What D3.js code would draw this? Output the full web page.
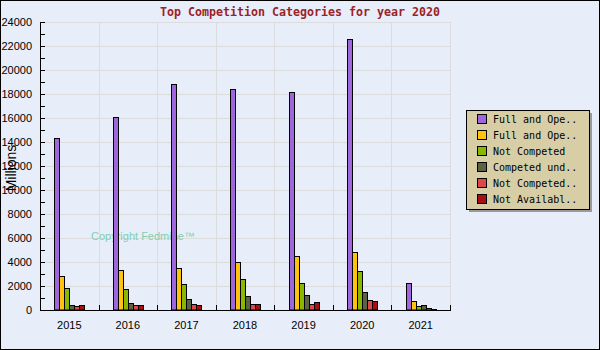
<!DOCTYPE html>
<html>
<head>
<meta charset="utf-8">
<script src="https://cdn.jsdelivr.net/npm/d3@7"></script>
<style>
  html, body { margin: 0; padding: 0; background: #e8eef9; }
  svg { display: block; }
</style>
</head>
<body>
<svg id="chart" width="600" height="350"></svg>
<script>
// Award amounts (millions of dollars) by competition category, per fiscal year
const years = ["2015", "2016", "2017", "2018", "2019", "2020", "2021"];
const seriesNames = ["Full and Ope..", "Full and Ope..", "Not Competed", "Competed und..", "Not Competed..", "Not Availabl.."];
const fullOpen        = [14300, 16100, 18800, 18400, 18150, 22550, 2250];
const fullOpenAfter   = [2850, 3330, 3500, 4000, 4500, 4830, 750];
const notCompeted     = [1830, 1750, 2170, 2580, 2250, 3250, 330];
const competedUnder   = [420, 580, 920, 1170, 1250, 1500, 420];
const notCompetedSimp = [300, 420, 500, 500, 500, 830, 170];
const notAvailable    = [420, 420, 420, 500, 670, 750, 80];
const seriesValues = [fullOpen, fullOpenAfter, notCompeted, competedUnder, notCompetedSimp, notAvailable];
const seriesColors = ["#a066dc", "#ffc20e", "#8ab800", "#5c6342", "#dd4848", "#a8100f"];
const yTicks = [0, 2000, 4000, 6000, 8000, 10000, 12000, 14000, 16000, 18000, 20000, 22000, 24000];
const yMinorTicks = d3.range(0, 24001, 1000);

const svg = d3.select("#chart");
const W = 600, H = 350;
const plot = { left: 40, right: 450, top: 22, bottom: 310 };

// background and outer frame
svg.append("rect").attr("x", 0).attr("y", 0).attr("width", W).attr("height", H).attr("fill", "#e8eef9");
svg.append("rect").attr("x", 0.5).attr("y", 0.5).attr("width", W - 1).attr("height", H - 1)
  .attr("fill", "none").attr("stroke", "#000").attr("stroke-width", 1);

const x = d3.scaleBand().domain(years).range([plot.left, plot.right]).padding(0);
const y = d3.scaleLinear().domain([0, 24000]).range([plot.bottom, plot.top]);
const groupW = 30;
const xs = d3.scaleBand().domain(d3.range(seriesNames.length)).range([0, groupW]).padding(0);

// grid
const grid = svg.append("g").attr("stroke", "#dcdcdc").attr("stroke-width", 1);
yTicks.filter(t => t > 0).forEach(t => {
  const yy = Math.round(y(t)) + 0.5;
  grid.append("line").attr("x1", plot.left).attr("x2", plot.right).attr("y1", yy).attr("y2", yy);
});
years.forEach(yr => {
  const xx = Math.round(x(yr) + x.bandwidth()) + 0.5;
  grid.append("line").attr("x1", xx).attr("x2", xx).attr("y1", plot.top).attr("y2", plot.bottom);
});

// watermark
svg.append("text").attr("x", 91).attr("y", 240)
  .attr("font-family", "Liberation Sans, Arial, sans-serif").attr("font-size", 11)
  .attr("fill", "#7fceb0").text("Copyright Fedmine\u2122");

// bars
const bars = svg.append("g");
years.forEach((yr, i) => {
  const gx = x(yr) + (x.bandwidth() - groupW) / 2;
  seriesValues.forEach((vals, s) => {
    const x0 = Math.round(gx + xs(s)) + 0.5;
    const yTop = Math.round(y(vals[i])) + 0.5;
    bars.append("rect")
      .attr("x", x0).attr("y", yTop)
      .attr("width", xs.bandwidth()).attr("height", Math.max(0, plot.bottom - yTop))
      .attr("fill", seriesColors[s]).attr("stroke", "#000").attr("stroke-width", 1);
  });
});

// y axis with inward ticks
const yAxis = svg.append("g").attr("stroke", "#000").attr("stroke-width", 1);
yAxis.append("line").attr("x1", plot.left + 0.5).attr("x2", plot.left + 0.5)
  .attr("y1", plot.top).attr("y2", plot.bottom + 0.5);
yMinorTicks.forEach(t => {
  const yy = Math.round(y(t)) + 0.5;
  yAxis.append("line").attr("x1", plot.left).attr("x2", plot.left + 5).attr("y1", yy).attr("y2", yy);
});
svg.append("g").selectAll("text").data(yTicks).join("text")
  .attr("x", 32).attr("y", d => y(d) + 4)
  .attr("text-anchor", "end")
  .attr("font-family", "Liberation Sans, Arial, sans-serif").attr("font-size", 11)
  .attr("fill", "#000").text(d => d);

// x axis with inward ticks at category boundaries
const xAxis = svg.append("g").attr("stroke", "#000").attr("stroke-width", 1);
xAxis.append("line").attr("x1", plot.left).attr("x2", plot.right + 1)
  .attr("y1", plot.bottom + 0.5).attr("y2", plot.bottom + 0.5);
[plot.left].concat(years.map(yr => x(yr) + x.bandwidth())).forEach(b => {
  const xx = Math.round(b) + 0.5;
  xAxis.append("line").attr("x1", xx).attr("x2", xx).attr("y1", plot.bottom - 5).attr("y2", plot.bottom);
});
svg.append("g").selectAll("text").data(years).join("text")
  .attr("x", d => x(d) + x.bandwidth() / 2).attr("y", 329)
  .attr("text-anchor", "middle")
  .attr("font-family", "Liberation Sans, Arial, sans-serif").attr("font-size", 11)
  .attr("fill", "#000").text(d => d);

// y axis title
svg.append("text")
  .attr("transform", "translate(16,168) rotate(-90)")
  .attr("text-anchor", "middle")
  .attr("font-family", "Liberation Sans, Arial, sans-serif").attr("font-size", 14)
  .attr("fill", "#000").text("Millions");

// title
svg.append("text").attr("x", 300).attr("y", 16).attr("text-anchor", "middle")
  .attr("font-family", "DejaVu Sans Mono, monospace").attr("font-weight", "bold").attr("font-size", 13)
  .attr("textLength", 280).attr("lengthAdjust", "spacingAndGlyphs")
  .attr("fill", "#9b2226").text("Top Competition Categories for year 2020");

// legend with drop shadow
const lg = { x: 466, y: 110, w: 123, h: 99 };
svg.append("rect").attr("x", lg.x + 3).attr("y", lg.y + 3).attr("width", lg.w).attr("height", lg.h)
  .attr("fill", "#9a9a9a");
svg.append("rect").attr("x", lg.x + 0.5).attr("y", lg.y + 0.5).attr("width", lg.w).attr("height", lg.h)
  .attr("fill", "#d8cea6").attr("stroke", "#000").attr("stroke-width", 1);
seriesNames.forEach((name, s) => {
  const ry = lg.y + 4 + s * 16;
  svg.append("rect").attr("x", 477.5).attr("y", ry + 0.5).attr("width", 9).attr("height", 9)
    .attr("fill", seriesColors[s]).attr("stroke", "#000").attr("stroke-width", 1);
  svg.append("text").attr("x", 493).attr("y", ry + 9)
    .attr("font-family", "DejaVu Sans Mono, monospace").attr("font-size", 10)
    .attr("fill", "#000").text(name);
});
</script>
</body>
</html>
